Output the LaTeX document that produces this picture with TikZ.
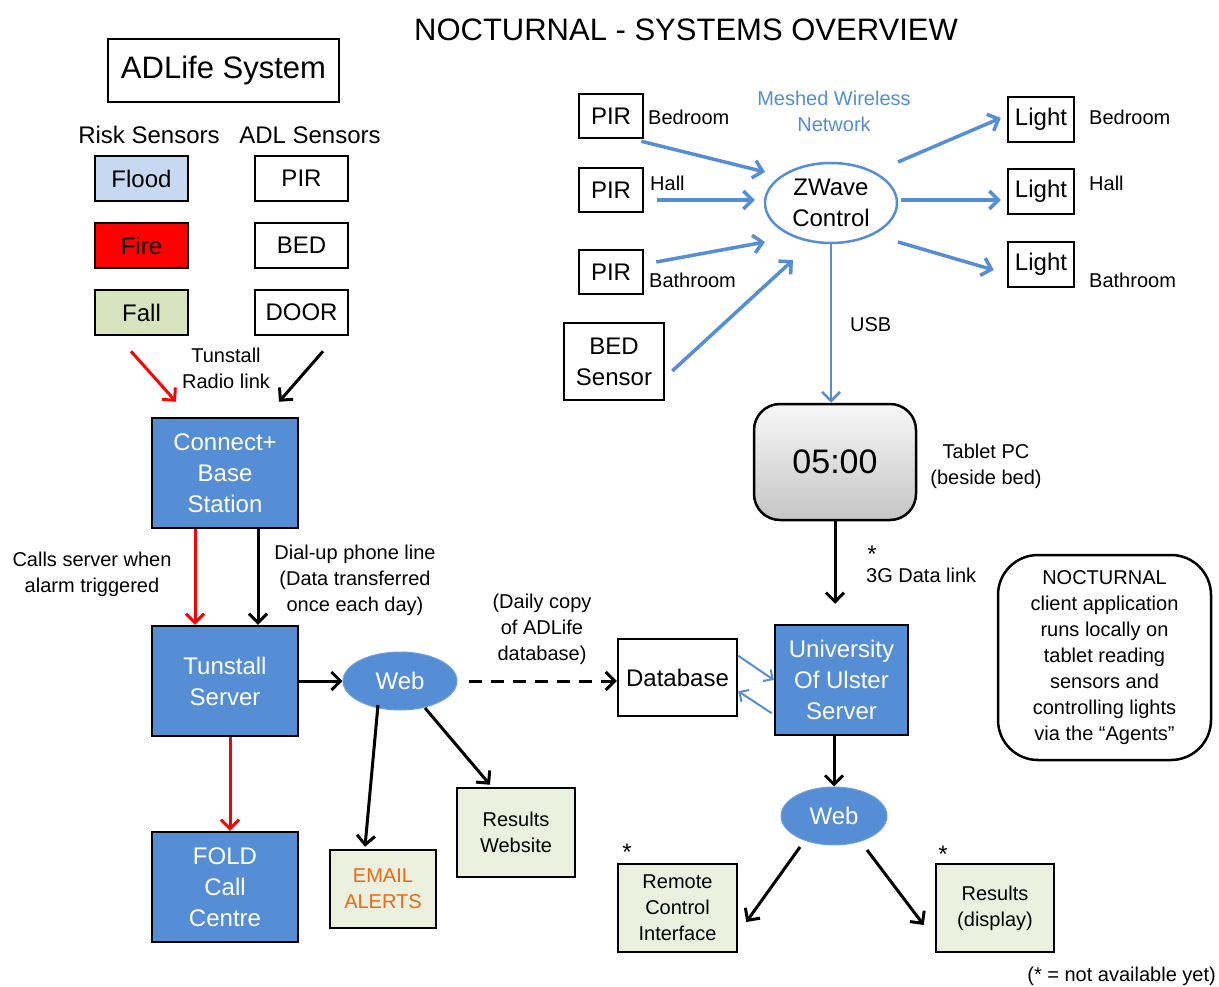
\documentclass[tikz,border=0pt]{standalone}
\usepackage{fontspec}
\setmainfont{Liberation Sans}
\usetikzlibrary{shapes.geometric,arrows.meta}
\definecolor{ppblue}{RGB}{85,142,213}
\definecolor{ppline}{RGB}{110,160,225}
\definecolor{floodblue}{RGB}{198,217,241}
\definecolor{fallgreen}{RGB}{215,228,189}
\definecolor{ppgreen}{RGB}{235,241,222}
\definecolor{alertorange}{RGB}{240,105,20}

\begin{document}
\begin{tikzpicture}[x=1pt,y=-1pt,
  f20/.style={font=\fontsize{20}{26}\selectfont},
  f24/.style={font=\fontsize{24}{31}\selectfont},
  f31/.style={font=\fontsize{31}{37}\selectfont},
  lbl/.style={f20,align=center,inner sep=0pt},
  box/.style={draw,line width=2.5pt,inner sep=0pt,align=center,f24},
  sensor/.style={box,minimum width=93pt,minimum height=45pt},
  pirbox/.style={box,minimum width=64pt,minimum height=44pt},
  lightbox/.style={box,minimum width=66pt,minimum height=45pt},
  bluebox/.style={box,fill=ppblue,text=white,minimum width=146pt,minimum height=110pt},
  greenbox/.style={box,fill=ppgreen,f20},
  webnode/.style={ellipse,draw=ppline,line width=1pt,fill=ppblue,text=white,f24,
    inner sep=0pt,minimum width=114pt,minimum height=58pt},
  arr/.style={line width=3pt,-{Straight Barb[length=9pt,width=18pt]}},
  redarr/.style={arr,red},
  bluearr/.style={arr,ppblue,line width=3.5pt},
  thinblue/.style={ppblue,line width=2pt,-{Straight Barb[length=7pt,width=14pt]}}]
  \useasboundingbox (0,0) rectangle (1219,987);

  \node[f31] (title) at (686,30) {NOCTURNAL - SYSTEMS OVERVIEW};

  % ADLife side
  \node[box,f31,minimum width=231pt,minimum height=63pt] (adlife) at (223.5,70.5) {ADLife System};
  \node[f24] (risk) at (149,135) {Risk Sensors};
  \node[f24] (adl) at (310,135) {ADL Sensors};
  \node[sensor,fill=floodblue] (flood) at (141.5,178.5) {Flood};
  \node[sensor,fill=red] (fire) at (141.5,245.5) {Fire};
  \node[sensor,fill=fallgreen] (fall) at (141.5,312.5) {Fall};
  \node[sensor] (pir) at (301.5,178.5) {PIR};
  \node[sensor] (bed) at (301.5,245.5) {BED};
  \node[sensor] (door) at (301.5,312.5) {DOOR};
  \node[lbl] (radio) at (226,368) {Tunstall\\Radio link};

  \node[bluebox] (base) at (225,473) {Connect+\\Base\\Station};
  \node[bluebox] (tserver) at (225,681) {Tunstall\\Server};
  \node[bluebox] (fold) at (225,887) {FOLD\\Call\\Centre};
  \node[lbl] (calls) at (92,574) {Calls server when\\alarm triggered};
  \node[lbl] (dialup) at (355,580) {Dial-up phone line\\(Data transferred\\once each day)};

  \node[webnode] (web) at (400,681) {Web};
  \node[lbl] (daily) at (542,629) {(Daily copy\\of ADLife\\database)};
  \node[greenbox,text=alertorange,minimum width=106pt,minimum height=78pt] (email) at (383,889) {EMAIL\\ALERTS};
  \node[greenbox,minimum width=118pt,minimum height=89pt] (resweb) at (516,832.5) {Results\\Website};

  \draw[redarr] ([xshift=-10.5pt,yshift=-15pt]fall.south) -- ([xshift=-49pt,yshift=15pt]base.north);
  \draw[arr] ([xshift=21.5pt,yshift=-15pt]door.south) -- ([xshift=54pt,yshift=15pt]base.north);
  \draw[redarr] ([xshift=-30pt]base.south) -- ([xshift=-30pt]tserver.north);
  \draw[arr] ([xshift=33pt]base.south) -- ([xshift=33pt]tserver.north);
  \draw[redarr] ([xshift=5pt]tserver.south) -- ([xshift=5pt]fold.north);
  \draw[arr] (tserver.east) -- (web.west);
  \draw[arr] ([xshift=-22pt,yshift=-24pt]web.center) -- ([xshift=-18pt,yshift=2pt]email.north);
  \draw[arr] ([xshift=25pt,yshift=-27pt]web.center) -- ([xshift=-26pt,yshift=2pt]resweb.north);

  % NOCTURNAL side
  \node[f20,text=ppblue,align=center,inner sep=0pt] (meshed) at (834,111) {Meshed Wireless\\Network};
  \node[pirbox] (pirA) at (611,116) {PIR};
  \node[pirbox] (pirB) at (611,190) {PIR};
  \node[pirbox] (pirC) at (611,272) {PIR};
  \node[box,minimum width=100pt,minimum height=77pt] (bedsensor) at (614,361.5) {BED\\Sensor};
  \node[lbl,anchor=west] at (648,117) {Bedroom};
  \node[lbl,anchor=west] at (650,183) {Hall};
  \node[lbl,anchor=west] at (649,280) {Bathroom};
  \node[ellipse,draw=ppblue,line width=2.5pt,fill=white,f24,align=center,inner sep=0pt,
    minimum width=132pt,minimum height=80pt] (zwave) at (831,203) {ZWave\\Control};
  \node[lightbox] (lightA) at (1041,119.5) {Light};
  \node[lightbox] (lightB) at (1041,191.5) {Light};
  \node[lightbox] (lightC) at (1041,264.5) {Light};
  \node[lbl,anchor=west] at (1089,117) {Bedroom};
  \node[lbl,anchor=west] at (1089,183) {Hall};
  \node[lbl,anchor=west] at (1089,280) {Bathroom};
  \node[lbl,anchor=west] (usb) at (850,325) {USB};

  \node[draw,line width=2.5pt,rounded corners=26pt,top color=gray!6,bottom color=gray!45,
    minimum width=162pt,minimum height=116pt,font=\fontsize{34}{40}\selectfont] (tablet) at (835,462) {05:00};
  \node[lbl] (tabletpc) at (986,466) {Tablet PC\\(beside bed)};
  \node[lbl,f24] (star3) at (872,554) {*};
  \node[lbl,anchor=west] (link3g) at (866,575) {3G Data link};
  \node[draw,line width=2.5pt,rounded corners=40pt,lbl,minimum width=213pt,minimum height=205pt]
    (agents) at (1104.5,657.5) {NOCTURNAL\\client application\\runs locally on\\tablet reading\\sensors and\\controlling lights\\via the “Agents”};

  \node[box,minimum width=119pt,minimum height=77pt] (db) at (677.5,677.5) {Database};
  \node[bluebox,minimum width=133pt] (uu) at (841.5,680) {University\\Of Ulster\\Server};
  \node[webnode,minimum width=106pt] (web2) at (834,816) {Web};
  \node[greenbox,minimum width=119pt,minimum height=88pt] (remote) at (677.5,908) {Remote\\Control\\Interface};
  \node[greenbox,minimum width=118pt,minimum height=88pt] (display) at (995,908) {Results\\(display)};
  \node[lbl,f24] (star1) at (627,852) {*};
  \node[lbl,f24] (star2) at (943,854) {*};
  \node[lbl,anchor=east] (notyet) at (1216,976) {(* = not available yet)};

  \draw[arr,dash pattern=on 13pt off 9pt,shorten <=11pt] (web.east) -- (web.east -| db.west);
  \draw[bluearr] ([xshift=-3pt,yshift=-2pt]pirA.south east) -- ([xshift=-66pt,yshift=31pt]zwave.center);
  \draw[bluearr] ([xshift=13pt,yshift=-10pt]pirB.east) -- ([xshift=-9pt,yshift=3pt]zwave.west);
  \draw[bluearr] ([xshift=12pt,yshift=10pt]pirC.east) -- ([xshift=-66pt,yshift=-39pt]zwave.center);
  \draw[bluearr] ([xshift=7pt,yshift=-9.5pt]bedsensor.east) -- ([xshift=-38pt,yshift=-57pt]zwave.center);
  \draw[bluearr] ([xshift=67pt,yshift=41pt]zwave.center) -- ([xshift=-6pt,yshift=1.5pt]lightA.west);
  \draw[bluearr] ([xshift=3pt,yshift=3pt]zwave.east) -- ([xshift=-6pt,yshift=-8.5pt]lightB.west);
  \draw[bluearr] ([xshift=67pt,yshift=-39pt]zwave.center) -- ([xshift=-13pt,yshift=-5.5pt]lightC.west);
  \draw[bluearr,line width=2.5pt] (zwave.south) -- (zwave.south |- tablet.north);
  \draw[arr,shorten >=20pt] (tablet.south) -- (tablet.south |- uu.north);
  \draw[thinblue] ([yshift=-18pt]db.north east) -- (uu.west);
  \draw[thinblue] ([xshift=-2pt,yshift=23pt]uu.south west) -- ([yshift=26pt]db.south east);
  \draw[arr] (web2.north |- uu.south) -- (web2.north);
  \draw[arr] ([xshift=-34pt,yshift=-31pt]web2.center) -- ([xshift=8pt,yshift=-14pt]remote.east);
  \draw[arr] ([xshift=33pt,yshift=-34pt]web2.center) -- ([xshift=-11pt,yshift=-17pt]display.west);
\end{tikzpicture}
\end{document}
